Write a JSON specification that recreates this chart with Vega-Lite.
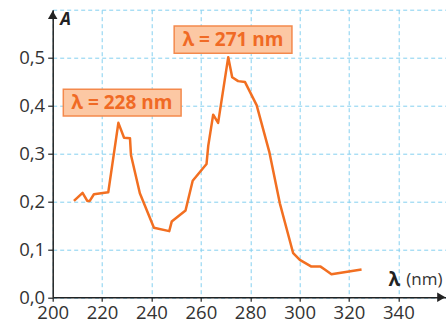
{
  "$schema": "https://vega.github.io/schema/vega-lite/v6.json",
  "width": 393.3,
  "height": 287.6,
  "autosize": "none",
  "padding": {"left": 52.7, "top": 9.7, "right": 0, "bottom": 29.7},
  "background": "white",
  "config": {"view": {"stroke": null}, "font": "Open Sans"},
  "datasets": {
    "spectrum": [
      {"lam": 208.6, "A": 0.201},
      {"lam": 212.1, "A": 0.218},
      {"lam": 214.0, "A": 0.201},
      {"lam": 215.0, "A": 0.201},
      {"lam": 216.7, "A": 0.215},
      {"lam": 222.5, "A": 0.219},
      {"lam": 226.6, "A": 0.364},
      {"lam": 228.9, "A": 0.333},
      {"lam": 231.3, "A": 0.332},
      {"lam": 231.7, "A": 0.297},
      {"lam": 235.3, "A": 0.217},
      {"lam": 241.0, "A": 0.145},
      {"lam": 247.2, "A": 0.138},
      {"lam": 248.2, "A": 0.158},
      {"lam": 253.8, "A": 0.181},
      {"lam": 256.7, "A": 0.243},
      {"lam": 262.3, "A": 0.278},
      {"lam": 263.0, "A": 0.316},
      {"lam": 265.0, "A": 0.381},
      {"lam": 267.0, "A": 0.364},
      {"lam": 271.1, "A": 0.501},
      {"lam": 272.7, "A": 0.459},
      {"lam": 275.1, "A": 0.451},
      {"lam": 277.9, "A": 0.449},
      {"lam": 282.6, "A": 0.401},
      {"lam": 287.7, "A": 0.304},
      {"lam": 292.0, "A": 0.196},
      {"lam": 297.4, "A": 0.092},
      {"lam": 300.1, "A": 0.078},
      {"lam": 304.8, "A": 0.064},
      {"lam": 308.5, "A": 0.064},
      {"lam": 310.2, "A": 0.058},
      {"lam": 312.9, "A": 0.048},
      {"lam": 325.1, "A": 0.058}
    ],
    "boxes": [
      {"lam": 204.3, "lam_end": 252.0, "A": 0.378, "A_high": 0.434},
      {"lam": 249.2, "lam_end": 296.9, "A": 0.509, "A_high": 0.566}
    ],
    "box_labels": [
      {"label": "λ = 228 nm", "lam": 228.0, "A": 0.405},
      {"label": "λ = 271 nm", "lam": 273.0, "A": 0.537}
    ],
    "arrows": [
      {"lam": 200, "A": 0.589, "shape": "triangle-up"},
      {"lam": 357.4, "A": 0, "shape": "triangle-right"}
    ],
    "symbol": [
      {"lam": 338.4, "A": 0.037, "label": "λ"}
    ]
  },
  "encoding": {
    "x": {
      "field": "lam", "type": "quantitative",
      "scale": {"domain": [200, 359.3], "nice": false, "zero": false},
      "axis": {
        "values": [200, 220, 240, 260, 280, 300, 320, 340],
        "grid": true, "gridColor": "#84d0f0", "gridDash": [4, 3], "gridWidth": 1,
        "domainColor": "#222", "domainWidth": 1.5,
        "tickColor": "#222", "tickSize": 4, "tickWidth": 1.2,
        "labelFontSize": 18.5, "labelColor": "#333", "labelPadding": 2, "labelFlush": false,
        "title": "(nm)", "titleX": 353, "titleY": -18, "titleAlign": "left", "titleBaseline": "middle",
        "titleFontWeight": "normal", "titleFontSize": 17, "titleColor": "#333"
      }
    },
    "y": {
      "field": "A", "type": "quantitative",
      "scale": {"domain": [0, 0.6], "nice": false, "zero": true},
      "axis": {
        "values": [0, 0.1, 0.2, 0.3, 0.4, 0.5, 0.6],
        "labelExpr": "datum.value > 0.55 ? '' : replace(format(datum.value, '.1f'), '.', ',')",
        "grid": true, "gridColor": "#84d0f0", "gridDash": [4, 3], "gridWidth": 1,
        "domainColor": "#222", "domainWidth": 1.5,
        "tickColor": "#222", "tickSize": 5, "tickWidth": 1.2,
        "tickOpacity": {"condition": {"test": "datum.value > 0.55", "value": 0}, "value": 1},
        "labelFontSize": 18.5, "labelColor": "#333", "labelPadding": 3,
        "title": "A", "titleAngle": 0, "titleX": 7, "titleY": 10, "titleAlign": "left", "titleBaseline": "middle",
        "titleFontStyle": "italic", "titleFontWeight": "bold", "titleFontSize": 17, "titleColor": "#222"
      }
    }
  },
  "layer": [
    {
      "data": {"name": "spectrum"},
      "mark": {"type": "line", "color": "#f26f21", "strokeWidth": 2.5, "strokeJoin": "round"}
    },
    {
      "data": {"name": "boxes"},
      "mark": {"type": "rect", "fill": "#fcc8a4", "stroke": "#f4894c", "strokeWidth": 1.5},
      "encoding": {
        "x2": {"field": "lam_end"},
        "y2": {"field": "A_high"}
      }
    },
    {
      "data": {"name": "box_labels"},
      "mark": {"type": "text", "color": "#f06a25", "fontWeight": "bold", "fontSize": 19, "align": "center", "baseline": "middle"},
      "encoding": {
        "text": {"field": "label"}
      }
    },
    {
      "data": {"name": "arrows"},
      "mark": {"type": "point", "filled": true, "color": "#222", "opacity": 1, "size": 90},
      "encoding": {
        "shape": {"field": "shape", "type": "nominal", "scale": null}
      }
    },
    {
      "data": {"name": "symbol"},
      "mark": {"type": "text", "color": "#222", "fontWeight": "bold", "fontSize": 19, "align": "center", "baseline": "middle"},
      "encoding": {
        "text": {"field": "label"}
      }
    }
  ]
}
